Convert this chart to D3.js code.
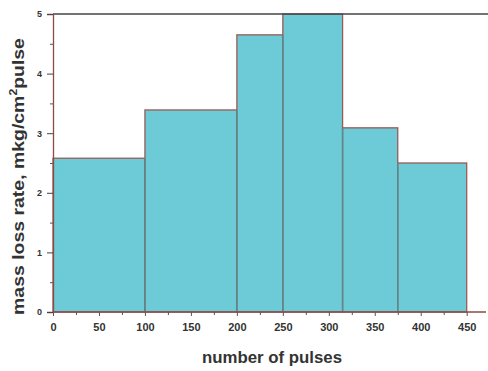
<!DOCTYPE html>
<html><head><meta charset="utf-8">
<script src="https://cdn.jsdelivr.net/npm/d3@7"></script>
<style>body{margin:0;background:#fff}text{font-family:"Liberation Sans",Arial,sans-serif}</style>
</head><body><svg id="c" width="488" height="371"></svg>
<script>
const binStarts = [0, 100, 200, 250, 315, 375];
const binEnds   = [100, 200, 250, 315, 375, 450];
const rates     = [2.58, 3.39, 4.65, 5.0, 3.09, 2.5];
const xTicks = [0,50,100,150,200,250,300,350,400,450];
const yTicks = [0,1,2,3,4,5];

const svg = d3.select("#c");
const x = d3.scaleLinear().domain([0,450]).range([53,466.7]);
const y = d3.scaleLinear().domain([0,5]).range([312,14]);

// bars
svg.selectAll("rect.bar").data(rates).enter().append("rect")
  .attr("x", (d,i)=>x(binStarts[i]))
  .attr("width", (d,i)=>x(binEnds[i])-x(binStarts[i]))
  .attr("y", d=>y(d))
  .attr("height", d=>y(0)-y(d))
  .attr("fill","#6ccbd6")
  .attr("stroke","#9a5a55").attr("stroke-width",1.3);

// inner vertical separators darker
svg.selectAll("line.sep").data(binStarts.slice(1)).enter().append("line")
  .attr("x1",d=>x(d)).attr("x2",d=>x(d))
  .attr("y1",(d,i)=>y(Math.min(rates[i],rates[i+1]))).attr("y2",y(0))
  .attr("stroke","#5a8a8e").attr("stroke-width",1.4);

// top line
svg.append("line").attr("x1",53).attr("x2",488).attr("y1",y(5)).attr("y2",y(5))
  .attr("stroke","#444").attr("stroke-width",1.5);

// x axis
const xa = svg.append("g").attr("transform",`translate(0,${y(0)})`)
  .call(d3.axisBottom(x).tickValues(xTicks).tickSize(4).tickPadding(7).tickFormat(d3.format("d")));
xa.select(".domain").remove();
xa.selectAll("text").attr("font-size",11).attr("font-weight","bold").attr("fill","#333");
xa.selectAll("line").attr("stroke","#555");
svg.append("line").attr("x1",53).attr("x2",486).attr("y1",y(0)).attr("y2",y(0))
  .attr("stroke","#8a4a45").attr("stroke-width",1.3);
svg.append("g").attr("transform",`translate(0,${y(0)})`)
  .call(d3.axisBottom(x).tickValues(d3.range(25,450,50)).tickSize(3).tickFormat(""))
  .call(g=>g.select(".domain").remove())
  .selectAll("line").attr("stroke","#555");

// y axis
const ya = svg.append("g").attr("transform",`translate(53,0)`)
  .call(d3.axisLeft(y).tickValues(yTicks).tickSize(6).tickPadding(5).tickFormat(d3.format("d")));
ya.select(".domain").attr("stroke","#8a4a45").attr("stroke-width",1.3);
ya.selectAll("text").attr("font-size",9).attr("font-weight","bold").attr("fill","#333");
ya.selectAll("line").attr("stroke","#444");
svg.append("g").attr("transform",`translate(53,0)`)
  .call(d3.axisLeft(y).tickValues(d3.range(0.5,5,1)).tickSize(3).tickFormat(""))
  .call(g=>g.select(".domain").remove())
  .selectAll("line").attr("stroke","#555");

// labels
svg.append("text").attr("x",272).attr("y",363).attr("text-anchor","middle")
  .attr("font-size",16).attr("font-weight","bold").attr("fill","#333")
  .attr("textLength",140).attr("lengthAdjust","spacingAndGlyphs").text("number of pulses");
const yl = svg.append("text").attr("transform","translate(24,176.5) rotate(-90)")
  .attr("text-anchor","middle").attr("font-size",16).attr("font-weight","bold").attr("fill","#333");
yl.append("tspan").text("mass loss rate, mkg/cm");
yl.append("tspan").attr("dy",-7).attr("font-size",10).text("2");
yl.append("tspan").attr("dy",7).text("pulse");
// stretch y label to the reference's length
const L = yl.node().getComputedTextLength();
const s = 277 / L;
yl.attr("transform",`translate(24,176.5) rotate(-90) scale(${s},1)`);
</script></body></html>
